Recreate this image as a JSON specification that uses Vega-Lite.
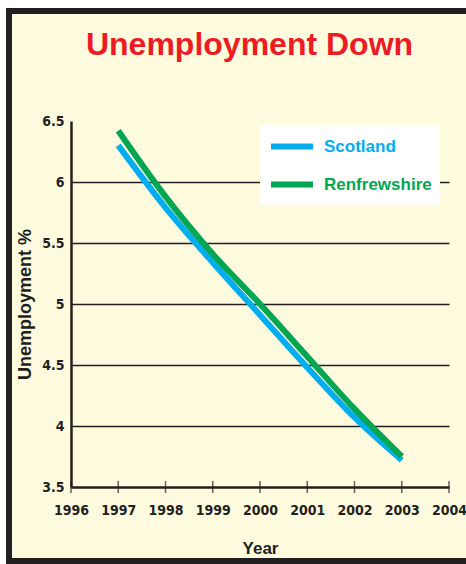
{
  "$schema": "https://vega.github.io/schema/vega-lite/v6.json",
  "autosize": "none",
  "width": 463,
  "height": 550,
  "padding": {"left": 9, "top": 11, "right": -6, "bottom": 3},
  "background": "white",
  "config": {
    "view": {"fill": "#FFFBDF", "stroke": "#231F20", "strokeWidth": 6},
    "font": "Liberation Sans"
  },
  "title": {
    "text": "Unemployment Down",
    "color": "#ED1C24",
    "fontSize": 32,
    "fontWeight": "bold",
    "font": "Liberation Sans",
    "anchor": "middle",
    "frame": "group",
    "offset": -51,
    "dx": 9
  },
  "layer": [
    {
      "data": {"values": [
        {"year": 1997, "value": 6.30, "series": "Scotland"},
        {"year": 1998, "value": 5.79, "series": "Scotland"},
        {"year": 1999, "value": 5.34, "series": "Scotland"},
        {"year": 2000, "value": 4.91, "series": "Scotland"},
        {"year": 2001, "value": 4.48, "series": "Scotland"},
        {"year": 2002, "value": 4.07, "series": "Scotland"},
        {"year": 2003, "value": 3.72, "series": "Scotland"},
        {"year": 1997, "value": 6.42, "series": "Renfrewshire"},
        {"year": 1998, "value": 5.88, "series": "Renfrewshire"},
        {"year": 1999, "value": 5.41, "series": "Renfrewshire"},
        {"year": 2000, "value": 5.00, "series": "Renfrewshire"},
        {"year": 2001, "value": 4.57, "series": "Renfrewshire"},
        {"year": 2002, "value": 4.14, "series": "Renfrewshire"},
        {"year": 2003, "value": 3.75, "series": "Renfrewshire"}
      ]},
      "mark": {"type": "line", "strokeWidth": 6, "interpolate": "monotone"},
      "encoding": {
        "x": {
          "field": "year", "type": "quantitative",
          "scale": {"domain": [1996, 2004], "range": [62, 440], "nice": false, "zero": false},
          "axis": {
            "values": [1996, 1997, 1998, 1999, 2000, 2001, 2002, 2003, 2004],
            "format": "d",
            "title": "Year",
            "offset": -74,
            "grid": false,
            "ticks": false,
            "domainWidth": 2.5,
            "domainColor": "#231F20",
            "labelFont": "DejaVu Sans Condensed",
            "labelFontSize": 14,
            "labelFontWeight": "bold",
            "labelColor": "#231F20",
            "labelPadding": 16,
            "labelFlush": false,
            "labelOverlap": false,
            "titleFont": "Liberation Sans",
            "titleFontSize": 17,
            "titleFontWeight": "bold",
            "titleColor": "#231F20",
            "titleY": 66,
            "titleBaseline": "alphabetic"
          }
        },
        "y": {
          "field": "value", "type": "quantitative",
          "scale": {"domain": [3.5, 6.5], "range": [476, 110], "nice": false, "zero": false},
          "axis": {
            "values": [3.5, 4, 4.5, 5, 5.5, 6, 6.5],
            "format": "~g",
            "title": "Unemployment %",
            "offset": -62,
            "ticks": false,
            "grid": true,
            "gridColor": "#231F20",
            "gridWidth": 1.5,
            "gridOpacity": {"condition": {"test": "datum.value >= 6.5 || datum.value <= 3.5", "value": 0}, "value": 1},
            "domainWidth": 2.5,
            "domainColor": "#231F20",
            "labelFont": "DejaVu Sans Condensed",
            "labelFontSize": 14,
            "labelFontWeight": "bold",
            "labelColor": "#231F20",
            "labelPadding": 7,
            "labelFlush": false,
            "labelOverlap": false,
            "titleFont": "Liberation Sans",
            "titleFontSize": 18,
            "titleFontWeight": "bold",
            "titleColor": "#231F20",
            "titleX": -41,
            "titleBaseline": "alphabetic"
          }
        },
        "color": {
          "field": "series", "type": "nominal",
          "scale": {"domain": ["Scotland", "Renfrewshire"], "range": ["#00AEEF", "#00A651"]},
          "sort": ["Scotland", "Renfrewshire"],
          "legend": {
            "orient": "none",
            "legendX": 251,
            "legendY": 114,
            "title": null,
            "fillColor": "white",
            "padding": 8,
            "symbolType": "M-1,0H3",
            "symbolSize": 441,
            "symbolStrokeWidth": 6,
            "labelFont": "Liberation Sans",
            "labelFontSize": 17,
            "labelFontWeight": "bold",
            "labelOffset": 29,
            "labelLimit": 300,
            "rowPadding": 12,
            "encode": {"labels": {"update": {"fill": {"scale": "color", "field": "value"}}}}
          }
        }
      }
    },
    {
      "data": {"values": [
        {"year": 1996}, {"year": 1997}, {"year": 1998}, {"year": 1999}, {"year": 2000},
        {"year": 2001}, {"year": 2002}, {"year": 2003}, {"year": 2004}
      ]},
      "mark": {"type": "tick", "orient": "vertical", "size": 12, "thickness": 1.5, "color": "#231F20"},
      "encoding": {
        "x": {"field": "year", "type": "quantitative"},
        "y": {"datum": 3.5, "type": "quantitative"}
      }
    }
  ]
}
